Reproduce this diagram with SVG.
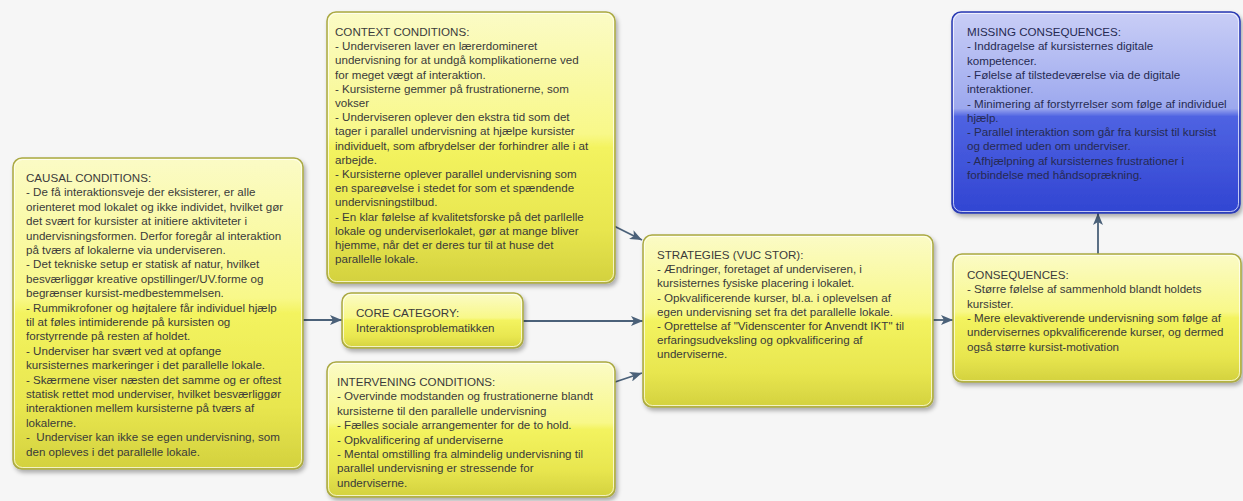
<svg xmlns="http://www.w3.org/2000/svg" width="1243" height="501" viewBox="0 0 1243 501">
  <style>
    .box { stroke: #aaa945; stroke-width: 1.5; }
    .yellow { fill: url(#yellowFill); }
    .blue { fill: url(#blueFill); stroke: #2a3ab2; stroke-width: 1.5; }
    .gloss { fill: url(#glossFill); }
    .inner { fill: none; stroke: #ffffff; stroke-opacity: 0.7; stroke-width: 1; }
    .label { font-family: "Liberation Sans", Arial, sans-serif; font-size: 11.6px; fill: #3a3a3a; white-space: pre; }
    .label-blue { fill: #262a52; }
    .conn { stroke: #4b6179; stroke-width: 1.8; fill: none; marker-end: url(#head); }
  </style>
  <defs>
    <linearGradient id="yellowFill" x1="0" y1="0" x2="0" y2="1">
      <stop offset="0" stop-color="#fbfbc6"/>
      <stop offset="0.45" stop-color="#f8f889"/>
      <stop offset="0.5" stop-color="#f3f35f"/>
      <stop offset="0.8" stop-color="#e8e64f"/>
      <stop offset="1" stop-color="#d3d13e"/>
    </linearGradient>
    <linearGradient id="blueFill" x1="0" y1="0" x2="0" y2="1">
      <stop offset="0" stop-color="#c9cef6"/>
      <stop offset="0.48" stop-color="#9ca8ee"/>
      <stop offset="0.52" stop-color="#4f63e2"/>
      <stop offset="1" stop-color="#3145d2"/>
    </linearGradient>
    <linearGradient id="glossFill" x1="0" y1="0" x2="0" y2="1">
      <stop offset="0" stop-color="#ffffff" stop-opacity="0.35"/>
      <stop offset="1" stop-color="#ffffff" stop-opacity="0.05"/>
    </linearGradient>
    <filter id="shadow" x="-10%" y="-10%" width="125%" height="125%">
      <feDropShadow dx="2" dy="3" stdDeviation="2.2" flood-color="#000000" flood-opacity="0.3"/>
    </filter>
    <marker id="head" viewBox="0 0 12 10" markerWidth="12" markerHeight="10" refX="12" refY="5" orient="auto" markerUnits="userSpaceOnUse">
      <path d="M0,0 L12,5 L0,10 L3,5 z" fill="#4b6179"/>
    </marker>
  </defs>

  <rect x="0" y="0" width="1243" height="501" fill="#f6f6f6"/>

  <!-- connectors -->
  <g id="connectors">
    <line class="conn" x1="303" y1="320" x2="342" y2="320"/>
    <line class="conn" x1="523" y1="321" x2="643" y2="321"/>
    <line class="conn" x1="614" y1="226" x2="642" y2="240"/>
    <line class="conn" x1="615" y1="382" x2="642" y2="373"/>
    <line class="conn" x1="933" y1="320" x2="953" y2="320"/>
    <line class="conn" x1="1098" y1="254" x2="1098" y2="213"/>
  </g>

  <!-- causal conditions -->
  <g id="causal">
    <rect class="box yellow" x="13" y="158" width="290" height="311" rx="9" filter="url(#shadow)"/>
    <rect class="inner" x="14.5" y="159.5" width="287" height="308" rx="8"/>
    <text class="label" x="26" y="182">
      <tspan x="26" dy="0">CAUSAL CONDITIONS:</tspan>
      <tspan x="26" dy="14.4">- De få interaktionsveje der eksisterer, er alle</tspan>
      <tspan x="26" dy="14.4">orienteret mod lokalet og ikke individet, hvilket gør</tspan>
      <tspan x="26" dy="14.4">det svært for kursister at initiere aktiviteter i</tspan>
      <tspan x="26" dy="14.4">undervisningsformen. Derfor foregår al interaktion</tspan>
      <tspan x="26" dy="14.4">på tværs af lokalerne via underviseren.</tspan>
      <tspan x="26" dy="14.4">- Det tekniske setup er statisk af natur, hvilket</tspan>
      <tspan x="26" dy="14.4">besværliggør kreative opstillinger/UV.forme og</tspan>
      <tspan x="26" dy="14.4">begrænser kursist-medbestemmelsen.</tspan>
      <tspan x="26" dy="14.4">- Rummikrofoner og højtalere får individuel hjælp</tspan>
      <tspan x="26" dy="14.4">til at føles intimiderende på kursisten og</tspan>
      <tspan x="26" dy="14.4">forstyrrende på resten af holdet.</tspan>
      <tspan x="26" dy="14.4">- Underviser har svært ved at opfange</tspan>
      <tspan x="26" dy="14.4">kursisternes markeringer i det parallelle lokale.</tspan>
      <tspan x="26" dy="14.4">- Skærmene viser næsten det samme og er oftest</tspan>
      <tspan x="26" dy="14.4">statisk rettet mod underviser, hvilket besværliggør</tspan>
      <tspan x="26" dy="14.4">interaktionen mellem kursisterne på tværs af</tspan>
      <tspan x="26" dy="14.4">lokalerne.</tspan>
      <tspan x="26" dy="14.4">-  Underviser kan ikke se egen undervisning, som</tspan>
      <tspan x="26" dy="14.4">den opleves i det parallelle lokale.</tspan>
    </text>
  </g>

  <!-- context conditions -->
  <g id="context">
    <rect class="box yellow" x="327" y="12" width="288" height="271" rx="9" filter="url(#shadow)"/>
    <rect class="inner" x="328.5" y="13.5" width="285" height="268" rx="8"/>
    <text class="label" x="335" y="36">
      <tspan x="335" dy="0">CONTEXT CONDITIONS:</tspan>
      <tspan x="335" dy="14.2">- Underviseren laver en lærerdomineret</tspan>
      <tspan x="335" dy="14.2">undervisning for at undgå komplikationerne ved</tspan>
      <tspan x="335" dy="14.2">for meget vægt af interaktion.</tspan>
      <tspan x="335" dy="14.2">- Kursisterne gemmer på frustrationerne, som</tspan>
      <tspan x="335" dy="14.2">vokser</tspan>
      <tspan x="335" dy="14.2">- Underviseren oplever den ekstra tid som det</tspan>
      <tspan x="335" dy="14.2">tager i parallel undervisning at hjælpe kursister</tspan>
      <tspan x="335" dy="14.2">individuelt, som afbrydelser der forhindrer alle i at</tspan>
      <tspan x="335" dy="14.2">arbejde.</tspan>
      <tspan x="335" dy="14.2">- Kursisterne oplever parallel undervisning som</tspan>
      <tspan x="335" dy="14.2">en spareøvelse i stedet for som et spændende</tspan>
      <tspan x="335" dy="14.2">undervisningstilbud.</tspan>
      <tspan x="335" dy="14.2">- En klar følelse af kvalitetsforske på det parllelle</tspan>
      <tspan x="335" dy="14.2">lokale og underviserlokalet, gør at mange bliver</tspan>
      <tspan x="335" dy="14.2">hjemme, når det er deres tur til at huse det</tspan>
      <tspan x="335" dy="14.2">parallelle lokale.</tspan>
    </text>
  </g>

  <!-- core category -->
  <g id="core">
    <rect class="box yellow" x="342" y="293" width="181" height="55" rx="9" filter="url(#shadow)"/>
    <rect class="inner" x="343.5" y="294.5" width="178" height="52" rx="8"/>
    <text class="label" x="356" y="317">
      <tspan x="356" dy="0">CORE CATEGORY:</tspan>
      <tspan x="356" dy="15">Interaktionsproblematikken</tspan>
    </text>
  </g>

  <!-- intervening conditions -->
  <g id="intervening">
    <rect class="box yellow" x="327" y="362" width="288" height="135" rx="9" filter="url(#shadow)"/>
    <rect class="inner" x="328.5" y="363.5" width="285" height="132" rx="8"/>
    <text class="label" x="337" y="386">
      <tspan x="337" dy="0">INTERVENING CONDITIONS:</tspan>
      <tspan x="337" dy="14.4">- Overvinde modstanden og frustrationerne blandt</tspan>
      <tspan x="337" dy="14.4">kursisterne til den parallelle undervisning</tspan>
      <tspan x="337" dy="14.4">- Fælles sociale arrangementer for de to hold.</tspan>
      <tspan x="337" dy="14.4">- Opkvalificering af underviserne</tspan>
      <tspan x="337" dy="14.4">- Mental omstilling fra almindelig undervisning til</tspan>
      <tspan x="337" dy="14.4">parallel undervisning er stressende for</tspan>
      <tspan x="337" dy="14.4">underviserne.</tspan>
    </text>
  </g>

  <!-- strategies -->
  <g id="strategies">
    <rect class="box yellow" x="643" y="235" width="290" height="172" rx="9" filter="url(#shadow)"/>
    <rect class="inner" x="644.5" y="236.5" width="287" height="169" rx="8"/>
    <text class="label" x="657" y="259">
      <tspan x="657" dy="0">STRATEGIES (VUC STOR):</tspan>
      <tspan x="657" dy="14.2">- Ændringer, foretaget af underviseren, i</tspan>
      <tspan x="657" dy="14.2">kursisternes fysiske placering i lokalet.</tspan>
      <tspan x="657" dy="14.2">- Opkvalificerende kurser, bl.a. i oplevelsen af</tspan>
      <tspan x="657" dy="14.2">egen undervisning set fra det parallelle lokale.</tspan>
      <tspan x="657" dy="14.2">- Oprettelse af "Videnscenter for Anvendt IKT" til</tspan>
      <tspan x="657" dy="14.2">erfaringsudveksling og opkvalificering af</tspan>
      <tspan x="657" dy="14.2">underviserne.</tspan>
    </text>
  </g>

  <!-- missing consequences -->
  <g id="missing">
    <rect class="blue" x="952" y="12" width="288" height="201" rx="9" filter="url(#shadow)"/>
    <rect class="inner" x="953.5" y="13.5" width="285" height="198" rx="8" stroke-opacity="0.5"/>
    <text class="label label-blue" x="967" y="36">
      <tspan x="967" dy="0">MISSING CONSEQUENCES:</tspan>
      <tspan x="967" dy="14.3">- Inddragelse af kursisternes digitale</tspan>
      <tspan x="967" dy="14.3">kompetencer.</tspan>
      <tspan x="967" dy="14.3">- Følelse af tilstedeværelse via de digitale</tspan>
      <tspan x="967" dy="14.3">interaktioner.</tspan>
      <tspan x="967" dy="14.3">- Minimering af forstyrrelser som følge af individuel</tspan>
      <tspan x="967" dy="14.3">hjælp.</tspan>
      <tspan x="967" dy="14.3">- Parallel interaktion som går fra kursist til kursist</tspan>
      <tspan x="967" dy="14.3">og dermed uden om underviser.</tspan>
      <tspan x="967" dy="14.3">- Afhjælpning af kursisternes frustrationer i</tspan>
      <tspan x="967" dy="14.3">forbindelse med håndsoprækning.</tspan>
    </text>
  </g>

  <!-- consequences -->
  <g id="consequences">
    <rect class="box yellow" x="953" y="254" width="288" height="128" rx="9" filter="url(#shadow)"/>
    <rect class="inner" x="954.5" y="255.5" width="285" height="125" rx="8"/>
    <text class="label" x="967" y="279">
      <tspan x="967" dy="0">CONSEQUENCES:</tspan>
      <tspan x="967" dy="14.3">- Større følelse af sammenhold blandt holdets</tspan>
      <tspan x="967" dy="14.3">kursister.</tspan>
      <tspan x="967" dy="14.3">- Mere elevaktiverende undervisning som følge af</tspan>
      <tspan x="967" dy="14.3">undervisernes opkvalificerende kurser, og dermed</tspan>
      <tspan x="967" dy="14.3">også større kursist-motivation</tspan>
    </text>
  </g>
</svg>
